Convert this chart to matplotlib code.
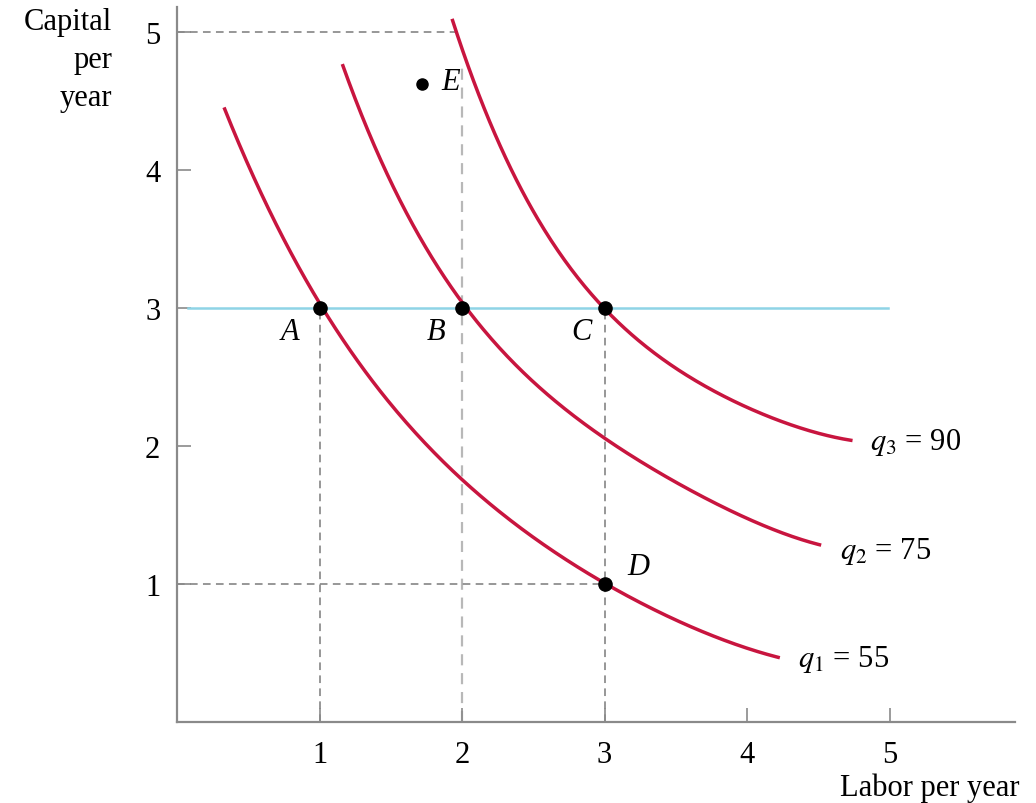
import matplotlib.pyplot as plt
import numpy as np

q1_x = [0.33, 0.51, 0.70, 0.86, 1.00, 1.33, 1.56, 2.00, 2.27, 2.62, 3.00, 3.44, 3.90, 4.23]
q1_y = [4.42, 4.03, 3.64, 3.31, 3.00, 2.51, 2.20, 1.76, 1.53, 1.28, 1.00, 0.75, 0.57, 0.47]

q2_x = [1.16, 1.35, 1.45, 1.70, 1.92, 2.00, 2.27, 2.38, 2.62, 3.00, 3.67, 3.79, 4.37, 4.52]
q2_y = [4.77, 4.23, 4.03, 3.60, 3.12, 3.00, 2.70, 2.59, 2.36, 2.07, 1.64, 1.57, 1.33, 1.28]

q3_x = [1.93, 1.97, 2.15, 2.44, 2.73, 3.00, 3.55, 4.02, 4.58, 4.74]
q3_y = [5.07, 5.00, 4.45, 3.82, 3.32, 3.00, 2.53, 2.27, 2.07, 2.04]

q_labels = [r'$q_1$ = 55', r'$q_2$ = 75', r'$q_3$ = 90']

# pontos marcados
pt_names = ['A', 'B', 'C', 'D', 'E']
pt_x = [1, 2, 3, 3, 1.72]
pt_y = [3, 3, 3, 1, 4.62]

x_ticks = [1, 2, 3, 4, 5]
y_ticks = [1, 2, 3, 4, 5]

plt.rcParams['font.family'] = ['Liberation Serif', 'DejaVu Serif']
plt.rcParams['mathtext.fontset'] = 'stix'

red = '#c8153f'
grey = '#7a7a7a'
fs = 22

fig = plt.figure(figsize=(10.36, 8.04), dpi=100)
ax = fig.add_axes([177 / 1036, 81 / 804, 838 / 1036, 715 / 804])
ax.set_xlim(0, 5.88)
ax.set_ylim(0, 5.18)

# linhas guia tracejadas
dash = dict(color=grey, lw=1.1, dashes=(5, 3.5), zorder=1)
ax.plot([0, pt_x[1]], [5, 5], **dash)
ax.plot([pt_x[1], pt_x[1]], [0, 4.75], color='#b8b8b8', lw=1.6, dashes=(5, 3.5), zorder=1)
ax.plot([pt_x[0], pt_x[0]], [0, pt_y[0]], **dash)
ax.plot([pt_x[2], pt_x[2]], [0, pt_y[2]], **dash)
ax.plot([0, pt_x[3]], [pt_y[3], pt_y[3]], **dash)

# linha de capital constante
ax.plot([0.08, 4.99], [3, 3], color='#8fd4e6', lw=1.8, zorder=2)

# isoquantas (tendência polinomial sobre os pontos lidos)
for xs, ys in zip([q1_x, q2_x, q3_x], [q1_y, q2_y, q3_y]):
    p = np.poly1d(np.polyfit(xs, ys, 4))
    xx = np.linspace(min(xs), max(xs), 300)
    ax.plot(xx, p(xx), color=red, lw=2.5, solid_capstyle='butt', zorder=3)

ax.text(4.36, 0.46, q_labels[0], fontsize=fs, va='center', ha='left')
ax.text(4.65, 1.24, q_labels[1], fontsize=fs, va='center', ha='left')
ax.text(4.86, 2.03, q_labels[2], fontsize=fs, va='center', ha='left')

# pontos A..E
ax.plot(pt_x[:4], pt_y[:4], 'o', color='black', markersize=9.5, zorder=4)
ax.plot(pt_x[4:], pt_y[4:], 'o', color='black', markersize=8, zorder=4)

lab_pos = [(0.79, 2.83), (1.82, 2.83), (2.84, 2.83), (3.24, 1.13), (1.92, 4.64)]
for name, (lx, ly) in zip(pt_names, lab_pos):
    ax.text(lx, ly, name, fontsize=fs, style='italic', ha='center', va='center')

# eixos
for side in ['top', 'right']:
    ax.spines[side].set_visible(False)
for side in ['left', 'bottom']:
    ax.spines[side].set_color('#8a8a8a')
    ax.spines[side].set_linewidth(1.6)

ax.set_xticks(x_ticks)
ax.set_yticks(y_ticks)
ax.tick_params(direction='in', length=10, width=1.2, color='#8a8a8a',
               labelsize=fs, pad=12)
ax.tick_params(axis='x', pad=13)

fig.text(112 / 1036, 1 - 8 / 804, 'Capital\nper\nyear', fontsize=fs,
         ha='right', va='top', linespacing=1.4)
fig.text(1020 / 1036, 1 - 788 / 804, 'Labor per year', fontsize=fs,
         ha='right', va='center')

plt.savefig('out.png', dpi=100)
